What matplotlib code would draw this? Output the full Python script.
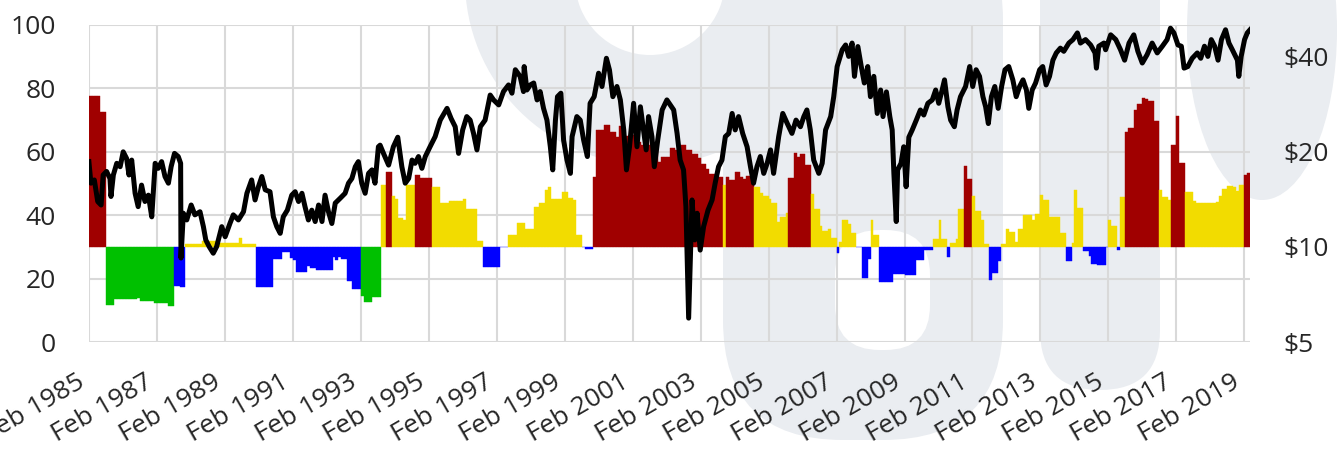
import matplotlib
matplotlib.use("Agg")
import matplotlib.pyplot as plt
from matplotlib.patches import Wedge, FancyBboxPatch, Ellipse
import numpy as np

plt.rcParams['font.family'] = ['Open Sans', 'DejaVu Sans']

# monthly bars Feb 1985 .. Mar 2019, given as runs: first month (0 = Feb 1985) and value
n_months = 410
bar_start = [0, 4, 6, 9, 17, 18, 23, 28, 30, 32,
             34, 40, 46, 53, 54, 59, 65, 68, 71, 72,
             73, 77, 78, 80, 86, 87, 88, 89, 91, 93,
             96, 97, 100, 103, 105, 107, 108, 109, 111, 112,
             115, 117, 121, 124, 127, 132, 133, 137, 139, 145,
             148, 151, 154, 157, 159, 161, 162, 163, 165, 167,
             169, 171, 172, 174, 175, 178, 179, 182, 184, 186,
             187, 189, 191, 192, 194, 195, 198, 199, 201, 202,
             205, 207, 209, 211, 213, 215, 216, 218, 219, 221,
             224, 225, 226, 228, 230, 231, 232, 234, 235, 237,
             238, 240, 241, 243, 244, 246, 247, 249, 250, 251,
             253, 255, 256, 258, 259, 261, 262, 264, 265, 266,
             268, 269, 271, 273, 275, 276, 277, 279, 284, 288,
             292, 295, 298, 300, 301, 303, 304, 306, 307, 309,
             310, 312, 313, 315, 316, 318, 319, 321, 322, 324,
             325, 327, 328, 330, 333, 334, 336, 337, 339, 343,
             345, 347, 348, 349, 351, 353, 354, 356, 359, 360,
             361, 363, 364, 366, 367, 369, 370, 372, 373, 374,
             376, 378, 379, 381, 382, 384, 385, 387, 390, 391,
             398, 399, 400, 402, 404, 405, 406, 408, 409]
bar_value = [77.5, 72.6, 11.8, 13.5, 14.0, 12.8, 12.3, 11.3, 17.8, 17.2,
             30.8, 32.0, 31.3, 32.8, 30.8, 17.3, 26.3, 28.4, 26.6, 25.9,
             22.2, 24.0, 23.4, 22.6, 26.7, 26.0, 26.9, 26.1, 19.2, 16.6,
             14.6, 12.7, 14.3, 49.5, 53.7, 46.1, 45.0, 39.2, 38.6, 49.4,
             52.6, 51.8, 49.0, 43.8, 44.6, 45.0, 42.1, 31.8, 23.6, 30.0,
             33.8, 37.5, 35.5, 42.6, 44.0, 47.8, 49.0, 45.2, 45.0, 47.4,
             45.3, 44.8, 33.8, 30.0, 29.3, 52.0, 66.9, 68.5, 66.3, 64.8,
             68.2, 65.0, 68.2, 65.3, 63.2, 62.1, 63.7, 61.1, 56.8, 58.3,
             61.1, 60.6, 62.1, 60.6, 59.3, 58.0, 56.2, 54.5, 53.1, 52.2,
             49.5, 52.2, 51.0, 53.5, 52.2, 51.3, 52.3, 50.6, 49.0, 47.1,
             46.0, 45.0, 43.9, 37.9, 39.5, 40.6, 51.6, 59.7, 58.4, 59.3,
             55.8, 46.7, 42.1, 36.6, 35.1, 35.8, 32.7, 28.2, 31.6, 38.5,
             37.3, 34.3, 30.0, 20.1, 26.2, 38.5, 33.6, 18.9, 21.3, 21.0,
             26.0, 29.0, 32.5, 38.5, 32.4, 26.7, 31.3, 32.4, 41.8, 55.5,
             51.4, 46.0, 41.3, 38.5, 31.0, 19.6, 21.7, 25.4, 30.9, 35.8,
             34.8, 31.6, 35.5, 40.0, 38.5, 40.4, 46.4, 44.8, 39.3, 34.3,
             25.6, 31.2, 47.8, 42.3, 28.6, 27.2, 24.5, 24.2, 30.0, 38.5,
             36.6, 29.0, 45.6, 66.1, 67.5, 73.2, 75.1, 77.1, 76.7, 75.9,
             69.6, 47.9, 45.6, 44.8, 62.1, 71.3, 56.4, 47.3, 44.6, 43.9,
             44.3, 45.9, 48.2, 49.2, 48.8, 47.7, 49.4, 52.7, 53.4]

# price line (right axis, log scale)
line_year = [
    1985.08, 1985.14, 1985.24, 1985.34, 1985.44, 1985.50, 1985.60, 1985.70, 1985.73, 1985.80, 1985.90,
    1986.00, 1986.09, 1986.19, 1986.26, 1986.34, 1986.44, 1986.53, 1986.63, 1986.73, 1986.83, 1986.93,
    1987.03, 1987.12, 1987.22, 1987.32, 1987.42, 1987.50, 1987.60, 1987.71, 1987.78, 1987.79, 1987.86, 1987.96,
    1988.09, 1988.20, 1988.35, 1988.45, 1988.52, 1988.62, 1988.74, 1988.84, 1988.99,
    1989.09, 1989.23, 1989.33, 1989.48, 1989.63, 1989.73, 1989.87, 1989.97,
    1990.07, 1990.17, 1990.27, 1990.41, 1990.51, 1990.61, 1990.71, 1990.80, 1990.92,
    1991.05, 1991.15, 1991.25, 1991.35, 1991.44, 1991.54, 1991.64, 1991.74, 1991.84, 1991.94,
    1992.03, 1992.13, 1992.23, 1992.33, 1992.48, 1992.62, 1992.72, 1992.82, 1992.92,
    1993.01, 1993.11, 1993.21, 1993.31, 1993.41, 1993.50, 1993.60, 1993.65, 1993.75, 1993.90,
    1994.04, 1994.17, 1994.29, 1994.39, 1994.49, 1994.59, 1994.68, 1994.78, 1994.88, 1994.98,
    1995.12, 1995.27, 1995.42, 1995.62, 1995.74, 1995.86, 1995.96,
    1996.08, 1996.20, 1996.30, 1996.40, 1996.50, 1996.60, 1996.74, 1996.89, 1996.99,
    1997.14, 1997.28, 1997.43, 1997.53, 1997.63, 1997.77, 1997.87, 1997.89, 1997.97,
    1998.07, 1998.17, 1998.27, 1998.36, 1998.46, 1998.56, 1998.66, 1998.73, 1998.81, 1998.87, 1998.97,
    1999.05, 1999.15, 1999.25, 1999.30, 1999.44, 1999.54, 1999.64, 1999.75, 1999.83, 1999.95,
    2000.08, 2000.18, 2000.31, 2000.40, 2000.50, 2000.62, 2000.72, 2000.82, 2000.90, 2000.99,
    2001.11, 2001.21, 2001.31, 2001.40, 2001.48, 2001.55, 2001.65, 2001.72, 2001.82, 2001.95,
    2002.09, 2002.29, 2002.39, 2002.48, 2002.58, 2002.65, 2002.73, 2002.83, 2002.91, 2002.98,
    2003.07, 2003.17, 2003.30, 2003.42, 2003.51, 2003.61, 2003.71, 2003.81, 2003.91,
    2004.01, 2004.10, 2004.20, 2004.32, 2004.45, 2004.55, 2004.64, 2004.74, 2004.84, 2004.94,
    2005.04, 2005.14, 2005.23, 2005.38, 2005.50, 2005.63, 2005.77, 2005.89,
    2006.02, 2006.12, 2006.21, 2006.31, 2006.41, 2006.56, 2006.66, 2006.76, 2006.91,
    2007.00, 2007.10, 2007.25, 2007.35, 2007.44, 2007.54, 2007.61, 2007.71, 2007.81, 2007.90,
    2008.00, 2008.08, 2008.18, 2008.28, 2008.38, 2008.45, 2008.55, 2008.65, 2008.72, 2008.77, 2008.84, 2008.88, 2008.98,
    2009.06, 2009.13, 2009.21, 2009.31, 2009.43, 2009.55, 2009.65, 2009.77, 2009.90,
    2010.00, 2010.09, 2010.19, 2010.26, 2010.36, 2010.44, 2010.55, 2010.63, 2010.73, 2010.88,
    2011.00, 2011.09, 2011.19, 2011.29, 2011.39, 2011.47, 2011.55, 2011.64, 2011.74, 2011.84, 2011.94,
    2012.04, 2012.15, 2012.27, 2012.37, 2012.47, 2012.57, 2012.67, 2012.74, 2012.84, 2012.94,
    2013.06, 2013.15, 2013.25, 2013.35, 2013.45, 2013.55, 2013.67, 2013.77, 2013.92,
    2014.04, 2014.17, 2014.26, 2014.41, 2014.56, 2014.69, 2014.73, 2014.80, 2014.95,
    2015.00, 2015.15, 2015.30, 2015.44, 2015.56, 2015.69, 2015.83, 2015.95,
    2016.08, 2016.22, 2016.37, 2016.52, 2016.67, 2016.81, 2016.91,
    2017.01, 2017.13, 2017.23, 2017.31, 2017.42, 2017.55, 2017.70, 2017.80, 2017.91,
    2018.01, 2018.11, 2018.21, 2018.31, 2018.41, 2018.53, 2018.63, 2018.73, 2018.88, 2018.92, 2018.99,
    2019.09, 2019.17, 2019.25,
]
line_price = [
    18.62, 15.91, 16.29, 13.92, 13.57, 16.89, 17.33, 16.47, 14.44, 16.89, 18.39,
    17.94, 20.00, 19.05, 16.89, 18.83, 14.78, 13.41, 15.69, 13.92, 14.58, 12.45,
    18.39, 17.73, 18.62, 16.70, 15.91, 17.94, 19.77, 19.32, 18.39, 9.22, 12.78, 12.17,
    13.57, 12.63, 12.92, 11.59, 10.52, 10.02, 9.55, 10.02, 11.59,
    10.77, 11.86, 12.63, 12.17, 12.92, 14.78, 16.29, 14.08,
    15.51, 16.70, 15.16, 14.95, 12.45, 11.59, 11.04, 12.45, 13.07,
    14.58, 14.95, 13.92, 14.78, 13.41, 12.17, 13.07, 12.03, 13.57, 12.03,
    14.58, 12.92, 11.86, 13.76, 14.27, 14.78, 15.91, 16.47, 17.94,
    18.62, 15.91, 14.78, 17.09, 17.53, 15.91, 20.75, 20.99, 19.77, 18.15,
    20.75, 22.24, 17.94, 15.91, 16.47, 18.83, 18.39, 19.32, 17.73, 19.32,
    20.75, 22.34, 25.20, 27.45, 25.49, 24.01, 19.77,
    23.46, 25.85, 25.20, 22.87, 20.28, 24.01, 25.20, 30.25, 29.19,
    28.15, 31.02, 32.56, 30.66, 36.38, 34.66, 31.02, 37.23, 31.38,
    32.56, 33.02, 29.19, 31.02, 27.45, 25.20, 20.75, 17.53, 25.20, 29.89, 30.66,
    21.78, 18.83, 17.09, 22.34, 25.85, 25.20, 21.78, 19.32, 28.48, 29.89,
    35.47, 32.19, 39.54, 36.30, 29.89, 32.19, 29.19, 23.46, 17.53, 20.75,
    28.48, 20.75, 27.77, 23.46, 20.28, 25.85, 22.34, 17.94, 21.78, 27.13,
    29.19, 27.13, 22.87, 18.83, 17.53, 13.41, 5.95, 14.08, 10.52, 12.78,
    9.77, 11.59, 13.07, 14.08, 15.91, 17.94, 18.83, 22.34, 22.87,
    26.45, 23.46, 25.85, 22.87, 20.75, 17.94, 15.91, 17.94, 19.32, 17.09,
    18.39, 20.28, 17.09, 22.34, 26.45, 24.62, 22.87, 25.20,
    24.01, 25.85, 27.13, 23.46, 18.83, 17.09, 18.39, 23.46, 25.85,
    29.89, 37.23, 42.08, 43.57, 40.09, 44.18, 34.66, 43.07, 37.23, 33.02,
    37.23, 29.89, 34.66, 26.45, 31.38, 25.85, 30.95, 25.85, 23.46, 17.09, 12.03, 17.53, 18.39,
    20.75, 15.51, 22.24, 23.46, 25.20, 27.13, 26.15, 28.48, 29.19,
    31.38, 28.48, 31.38, 33.79, 27.77, 25.20, 24.01, 27.13, 29.89, 32.19,
    37.23, 32.19, 36.38, 34.66, 29.89, 27.77, 24.57, 29.89, 32.19, 27.45, 32.19,
    36.38, 37.23, 33.79, 29.89, 32.19, 33.79, 31.38, 27.45, 31.38, 33.02,
    36.38, 37.23, 32.56, 34.66, 39.00, 41.12, 42.58, 41.60, 44.18,
    45.31, 47.57, 44.18, 45.31, 43.57, 41.12, 36.80, 43.17, 44.18,
    42.08, 46.91, 45.31, 42.08, 39.00, 44.18, 46.91, 41.60,
    38.20, 40.56, 44.18, 41.12, 43.17, 45.31, 49.24,
    47.57, 43.57, 43.17, 36.80, 37.23, 39.54, 41.12, 39.54, 43.17,
    40.09, 45.31, 43.17, 39.00, 45.31, 48.67, 44.18, 42.08, 39.00, 34.66, 40.09,
    45.31, 47.57, 48.67,
]

tick_months = list(range(0, n_months, 24))
tick_labels = ["Feb %d" % (1985 + m // 12) for m in tick_months]

# expand the runs to one value per month
vals = np.empty(n_months)
for i, s in enumerate(bar_start):
    e = bar_start[i + 1] if i + 1 < len(bar_start) else n_months
    vals[s:e] = bar_value[i]

red, yellow, blue, green = '#A00000', '#F2DC00', '#0000FF', '#00C000'
colors = np.where(vals >= 50, red, np.where(vals > 30, yellow,
                  np.where(vals >= 15, blue, green)))

fig = plt.figure(figsize=(13.37, 4.5), dpi=100)

# faint logo watermark behind the chart (pixel coordinates)
bg = fig.add_axes([0, 0, 1, 1], zorder=-1)
bg.set_xlim(0, 1337)
bg.set_ylim(450, 0)
bg.axis('off')
wm = '#EAEDF1'
bg.add_patch(Wedge((650, -20), 185, 0, 360, width=110, color=wm, lw=0))
bg.add_patch(FancyBboxPatch((723, -100), 280, 540, boxstyle="round,pad=0,rounding_size=120",
                            color=wm, lw=0))
bg.add_patch(FancyBboxPatch((835, 230), 95, 120, boxstyle="round,pad=0,rounding_size=45",
                            color='white', lw=0))
bg.add_patch(FancyBboxPatch((1040, -100), 120, 490, boxstyle="round,pad=0,rounding_size=60",
                            color=wm, lw=0))
bg.add_patch(Ellipse((1262, 30), 150, 340, color=wm, lw=0))

ax = fig.add_axes([89 / 1337, 1 - 342 / 450, (1250 - 89) / 1337, (342 - 25) / 450])
ax.set_facecolor('none')

months = np.arange(n_months)
ax.bar(months + 0.5, vals - 30, bottom=30, width=1.0, color=colors,
       edgecolor=colors, linewidth=0.3, zorder=2)

ax.set_xlim(0, n_months)
ax.set_ylim(0, 100)
ax.set_yticks([0, 20, 40, 60, 80, 100])
ax.set_xticks(tick_months)
ax.set_xticklabels(tick_labels, rotation=30, ha='right')
ax.grid(True, color='#D9D9D9', lw=1.5)
ax.set_axisbelow(True)
ax.tick_params(axis='y', length=0, pad=24, labelsize=19, labelcolor='#262626')
ax.tick_params(axis='x', length=0, pad=20, labelsize=19, labelcolor='#262626')
for sp in ax.spines.values():
    sp.set_visible(False)

ax2 = ax.twinx()
ax2.set_yscale('log')
ax2.set_ylim(5, 5 * 2 ** (100 / 30))
line_x = (np.array(line_year) - (1985 + 1 / 12)) * 12
ax2.plot(line_x, line_price, color='black', lw=3.6, solid_joinstyle='round', zorder=3)
ax2.set_yticks([5, 10, 20, 40])
ax2.set_yticklabels(['$5', '$10', '$20', '$40'])
ax2.minorticks_off()
ax2.tick_params(axis='y', which='both', length=0, pad=24, labelsize=19, labelcolor='#262626')
for sp in ax2.spines.values():
    sp.set_visible(False)
ax2.set_xlim(0, n_months)

fig.savefig('out.png', dpi=100)
